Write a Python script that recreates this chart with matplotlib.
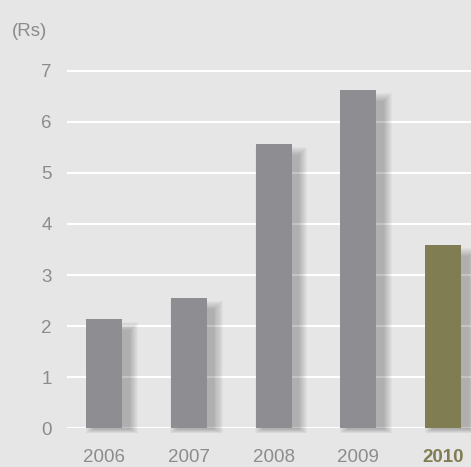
import matplotlib.pyplot as plt
from matplotlib.patches import Rectangle

years = ['2006', '2007', '2008', '2009', '2010']
values = [2.14, 2.55, 5.56, 6.62, 3.59]
bar_colors = ['#8e8d92', '#8e8d92', '#8e8d92', '#8e8d92', '#817d52']
yticks = [0, 1, 2, 3, 4, 5, 6, 7]

bg = '#e6e6e6'
txt = '#8c8c8c'

plt.rcParams['font.family'] = ['Liberation Sans', 'DejaVu Sans']

fig = plt.figure(figsize=(4.71, 4.67), dpi=100, facecolor=bg)
ax = fig.add_axes([0.1423, 0.0829, 0.8577, 0.810])
ax.set_facecolor(bg)

x = list(range(len(years)))
width = 0.425

# soft drop shadow behind each bar, pushed right and down
for xi, v in zip(x, values):
    for k in range(9):
        gx = k * 0.012
        gy = k * 0.02
        ax.add_patch(Rectangle((xi - width / 2 + 0.09 - gx, -0.02 - gy * 0.5),
                               width + 2 * gx, v - 0.2 + gy * 1.5,
                               facecolor='#000000', alpha=0.028, linewidth=0,
                               zorder=2, clip_on=False))

ax.bar(x, values, width=width, color=bar_colors, zorder=3)

ax.set_xlim(-0.437, 4.33)
ax.set_ylim(0, 7.405)
ax.set_yticks(yticks)
ax.set_xticks(x)
ax.set_xticklabels(years)
ax.grid(axis='y', color='white', linewidth=1.5, zorder=1)
ax.set_axisbelow(True)
for s in ax.spines.values():
    s.set_visible(False)
ax.tick_params(axis='both', length=0, labelsize=13.5, colors=txt)
ax.tick_params(axis='x', pad=15)
ax.tick_params(axis='y', pad=11)

lab = ax.get_xticklabels()[-1]
lab.set_color('#817d52')
lab.set_fontweight('bold')

fig.text(12 / 471, 1 - 31 / 467, '(Rs)', color=txt, fontsize=13.5, va='center', ha='left')

fig.savefig('out.png', dpi=100, facecolor=bg)
